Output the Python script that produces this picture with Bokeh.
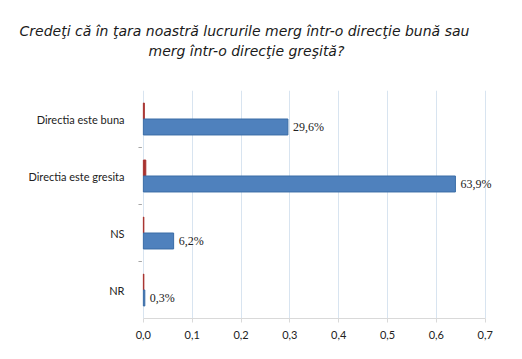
from bokeh.plotting import figure
from bokeh.models import (ColumnDataSource, FactorRange, Range1d, FixedTicker,
                          LabelSet, Title)
from bokeh.transform import dodge
from bokeh.embed import file_html
from bokeh.resources import INLINE

categories = ["Directia este buna", "Directia este gresita", "NS", "NR"]
blue_values = [0.296, 0.639, 0.062, 0.003]
red_values = [0.002, 0.005, 0.001, 0.001]
value_labels = ["29,6%", "63,9%", "6,2%", "0,3%"]
x_ticks = [0.0, 0.1, 0.2, 0.3, 0.4, 0.5, 0.6, 0.7]
x_tick_labels = ["0,0", "0,1", "0,2", "0,3", "0,4", "0,5", "0,6", "0,7"]
title_line1 = "Credeţi că în ţara noastră lucrurile merg într-o direcţie bună sau"
title_line2 = "merg într-o direcţie greşită?"

FONT = "Lato"
TFONT = "DejaVu Sans"
W, H = 522, 359
LEFT = 137

src = ColumnDataSource(dict(cat=categories, blue=blue_values, red=red_values,
                            lab=value_labels))

x_start, x_end = -0.012, 0.76
p = figure(width=W, height=H, output_backend="svg", toolbar_location=None,
           y_range=FactorRange(*reversed(categories)),
           x_range=Range1d(x_start, x_end),
           min_border_left=LEFT, min_border_right=8, min_border_top=90,
           min_border_bottom=41)
p.y_range.range_padding = 0
p.outline_line_color = None

# spacer between the chart and the title, then the two title lines
p.add_layout(Title(text=" ", standoff=13, text_font_size="14px"), "above")
for txt, off in [(title_line2, 148 - LEFT), (title_line1, 19 - LEFT)]:
    p.add_layout(Title(text=txt, align="left", offset=off, standoff=2,
                       text_font=TFONT, text_font_style="italic",
                       text_font_size="14px", text_color="#1a1a1a"), "above")

p.hbar(y=dodge("cat", 0.14, range=p.y_range), left=0, right="red", height=0.28,
       source=src, fill_color="#A8322F", line_color="#A8322F", line_width=1)
p.hbar(y=dodge("cat", -0.14, range=p.y_range), left=0, right="blue", height=0.28,
       source=src, fill_color="#4F81BD", line_color="#3A6CA6", line_width=1)

# category boundary dashes of the vertical axis
bsrc = ColumnDataSource(dict(cat=categories[:3]))
p.segment(x0=-0.010, x1=-0.003, y0=dodge("cat", -0.5, range=p.y_range),
          y1=dodge("cat", -0.5, range=p.y_range), source=bsrc,
          line_color="#A6A6A6", line_width=1)

labels = LabelSet(x="blue", y=dodge("cat", -0.14, range=p.y_range), text="lab",
                  source=src, x_offset=5, text_baseline="middle",
                  text_font=FONT, text_font_size="12px", text_color="#222222")
p.add_layout(labels)

# axes
p.xaxis.ticker = FixedTicker(ticks=x_ticks)
p.xaxis.bounds = (0, 0.7)
p.xaxis.major_label_overrides = {t_: l for t_, l in zip(x_ticks, x_tick_labels)}
p.xaxis.major_label_text_font = FONT
p.xaxis.major_label_text_font_size = "11px"
p.xaxis.major_label_text_color = "#222222"
p.xaxis.axis_line_color = "#D9D9D9"
p.xaxis.major_tick_line_color = "#D9D9D9"
p.xaxis.major_tick_in = 0
p.xaxis.major_tick_out = 4
p.xaxis.minor_tick_line_color = None
p.xaxis.major_label_standoff = 8

p.yaxis.axis_line_color = None
p.yaxis.major_tick_line_color = None
p.yaxis.minor_tick_line_color = None
p.yaxis.major_label_text_font = FONT
p.yaxis.major_label_text_font_size = "11px"
p.yaxis.major_label_text_color = "#222222"
p.yaxis.major_label_standoff = 7

p.xgrid.grid_line_color = "#D8E4F0"
p.ygrid.grid_line_color = None

open("out.html", "w").write(file_html(p, INLINE))
